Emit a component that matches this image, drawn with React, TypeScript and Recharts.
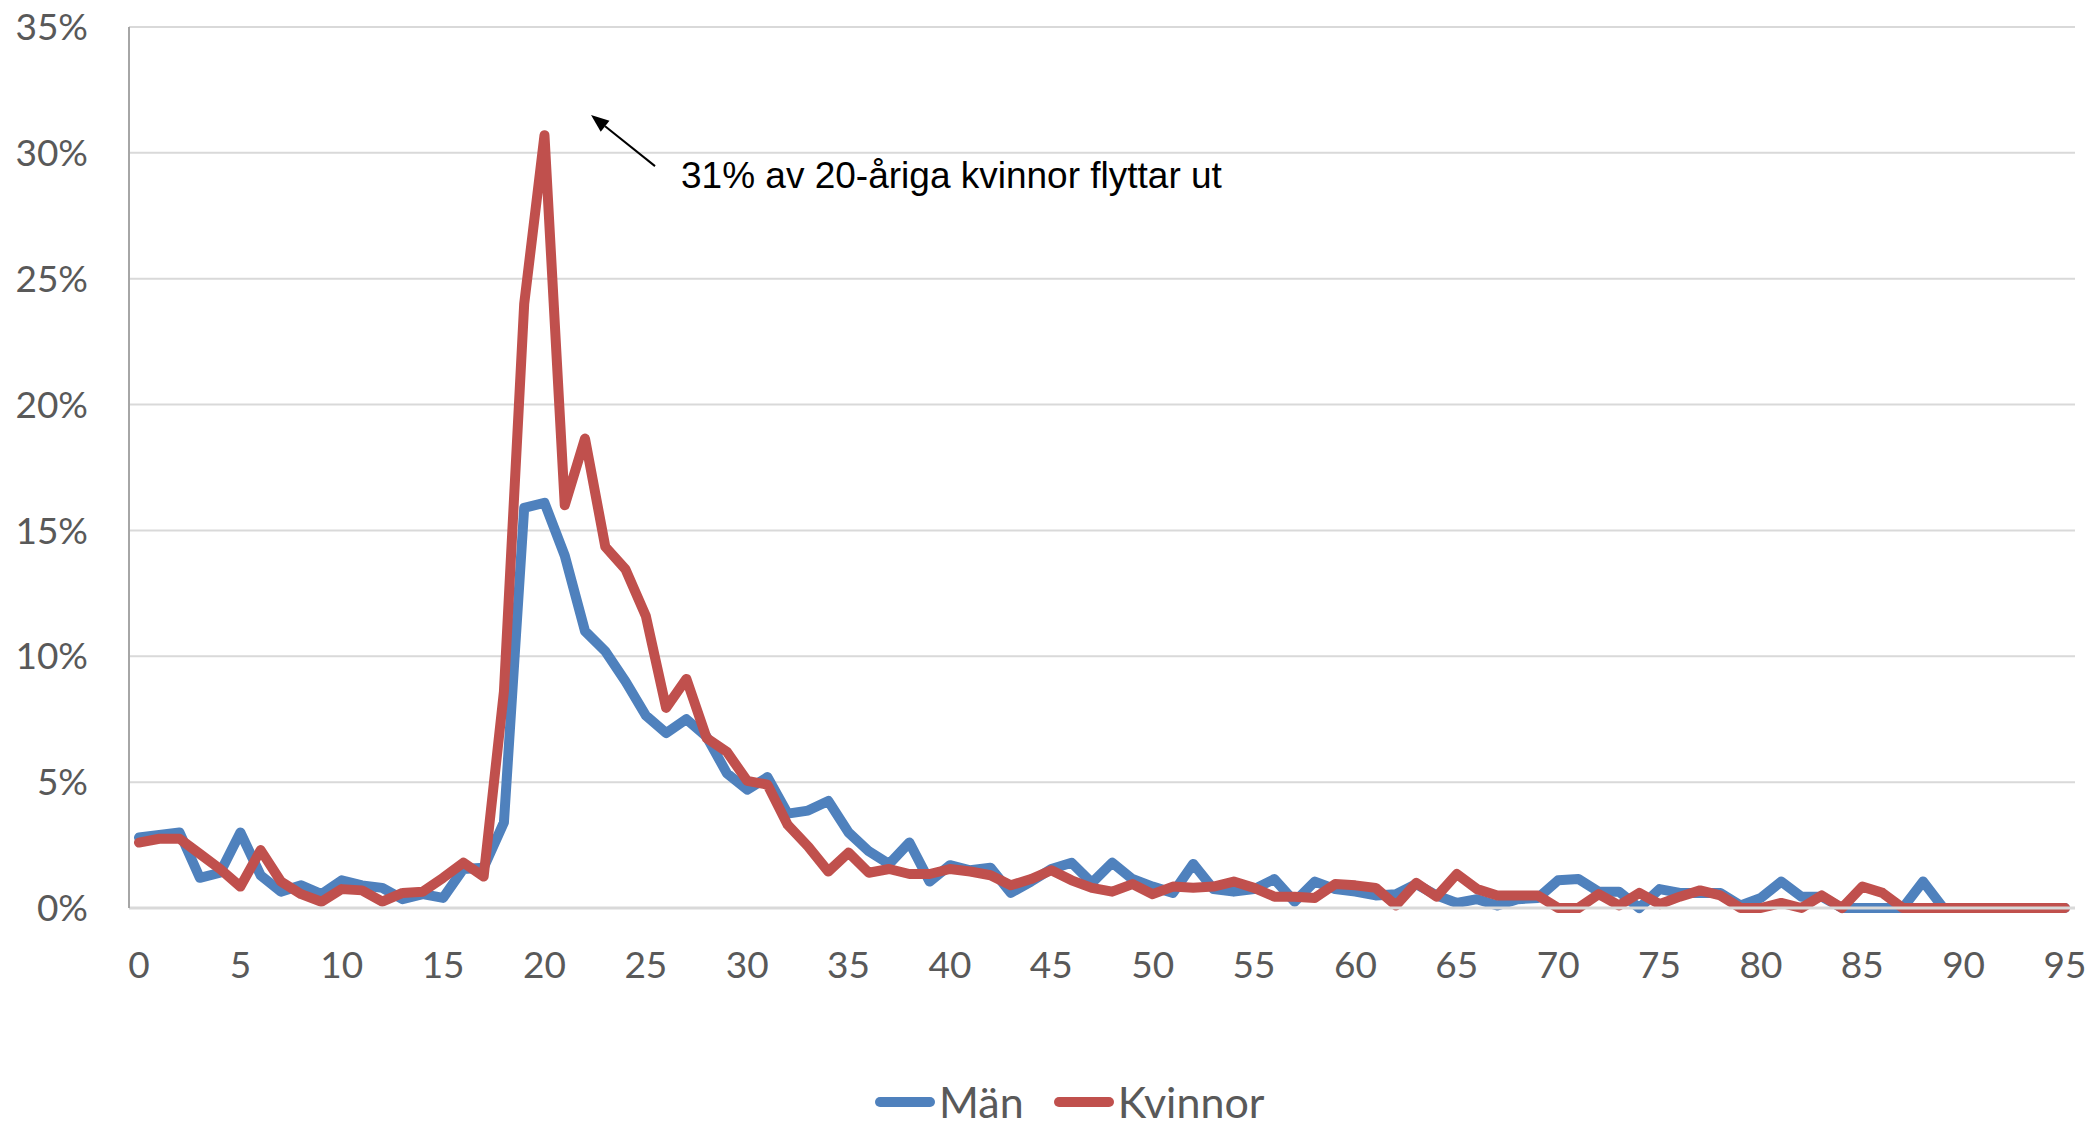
import {
  LineChart,
  Line,
  XAxis,
  YAxis,
  CartesianGrid,
  Legend,
  ReferenceDot,
} from "recharts";

// age 0..95 (category axis)
const ages: number[] = Array.from({ length: 96 }, (_, i) => i);

// share moving out, percent
const men: number[] = [
  2.8, 2.9, 3.0, 1.2, 1.4, 3.0, 1.3, 0.65, 0.9, 0.55,
  1.1, 0.9, 0.8, 0.35, 0.55, 0.4, 1.55, 1.6, 3.4, 15.9,
  16.1, 14.0, 11.0, 10.2, 9.0, 7.65, 6.95, 7.5, 6.8, 5.35,
  4.7, 5.2, 3.75, 3.87, 4.25, 3.0, 2.25, 1.75, 2.6, 1.05,
  1.7, 1.5, 1.6, 0.6, 1.05, 1.55, 1.8, 1.0, 1.8, 1.15,
  0.85, 0.6, 1.75, 0.75, 0.65, 0.75, 1.15, 0.25, 1.05, 0.75,
  0.65, 0.5, 0.55, 0.95, 0.5, 0.2, 0.35, 0.1, 0.35, 0.4,
  1.1, 1.15, 0.65, 0.65, 0.0, 0.75, 0.6, 0.6, 0.6, 0.1,
  0.4, 1.05, 0.45, 0.45, 0.0, 0.0, 0.0, 0.0, 1.05, 0.0,
  0.0, 0.0, 0.0, 0.0, 0.0, 0.0,
];

const women: number[] = [
  2.6, 2.75, 2.75, 2.15, 1.55, 0.85, 2.3, 1.05, 0.55, 0.25,
  0.75, 0.7, 0.25, 0.6, 0.65, 1.2, 1.8, 1.25, 8.6, 24.0,
  30.7, 16.0, 18.65, 14.35, 13.45, 11.6, 7.95, 9.1, 6.75, 6.2,
  5.05, 4.9, 3.3, 2.45, 1.45, 2.2, 1.4, 1.55, 1.35, 1.35,
  1.55, 1.45, 1.3, 0.9, 1.15, 1.5, 1.1, 0.8, 0.65, 0.95,
  0.55, 0.85, 0.8, 0.85, 1.05, 0.8, 0.45, 0.45, 0.4, 0.95,
  0.9, 0.8, 0.1, 1.0, 0.45, 1.35, 0.75, 0.5, 0.5, 0.5,
  0.0, 0.0, 0.55, 0.1, 0.6, 0.15, 0.45, 0.7, 0.5, 0.0,
  0.0, 0.2, 0.0, 0.5, 0.0, 0.85, 0.6, 0.0, 0.0, 0.0,
  0.0, 0.0, 0.0, 0.0, 0.0, 0.0,
];

const yTicks: number[] = [0, 5, 10, 15, 20, 25, 30, 35];

const legendOrder: string[] = ["Män", "Kvinnor"];

const calloutText = "31% av 20-åriga kvinnor flyttar ut";
const calloutAge = 22;
const calloutValue = 31.5;

const data = ages.map((age, i) => ({ age, men: men[i], women: women[i] }));

const tickStyle = { fill: "#595959", fontSize: 37, fontFamily: "Lato" };

function Callout({ cx, cy }: { cx: number; cy: number }) {
  const tipX = cx + 6;
  const tipY = cy;
  const tailX = cx + 70;
  const tailY = cy + 51;
  const dx = tipX - tailX;
  const dy = tipY - tailY;
  const len = Math.sqrt(dx * dx + dy * dy);
  const ux = dx / len;
  const uy = dy / len;
  const headLen = 18;
  const headW = 7;
  const bx = tipX - ux * headLen;
  const by = tipY - uy * headLen;
  const pts = [
    `${tipX},${tipY}`,
    `${bx - uy * headW},${by + ux * headW}`,
    `${bx + uy * headW},${by - ux * headW}`,
  ].join(" ");
  return (
    <g>
      <line x1={tailX} y1={tailY} x2={bx} y2={by} stroke="#000" strokeWidth={2} />
      <polygon points={pts} fill="#000" />
      <text
        x={cx + 96}
        y={cy + 73}
        fontFamily="'Liberation Sans', Arial, sans-serif"
        fontSize={37}
        fill="#000"
      >
        {calloutText}
      </text>
    </g>
  );
}

function LegendContent(props: any) {
  const items = [...(props.payload || [])].sort(
    (a: any, b: any) => legendOrder.indexOf(a.value) - legendOrder.indexOf(b.value)
  );
  return (
    <div
      style={{
        display: "flex",
        alignItems: "center",
        height: 44,
        marginLeft: 875,
        fontFamily: "Lato",
        fontSize: 43,
        lineHeight: "44px",
        color: "#595959",
      }}
    >
      {items.map((it: any) => (
        <div
          key={it.value}
          style={{ display: "flex", alignItems: "center", marginRight: 30 }}
        >
          <span
            style={{
              display: "inline-block",
              width: 60,
              height: 10,
              borderRadius: 5,
              background: it.color,
              marginRight: 4,
            }}
          />
          <span>{it.value}</span>
        </div>
      ))}
    </div>
  );
}

export default function App() {
  return (
    <div
      style={{
        position: "absolute",
        left: 0,
        top: 0,
        width: 2091,
        height: 1130,
        background: "#fff",
      }}
    >
      <LineChart
        width={2091}
        height={1130}
        data={data}
        margin={{ top: 27, right: 16, bottom: 0, left: 9 }}
      >
        <CartesianGrid vertical={false} stroke="#D9D9D9" strokeWidth={2} />
        <XAxis
          dataKey="age"
          interval={4}
          padding={{ left: 10, right: 10 }}
          height={178}
          tickLine={false}
          tickSize={0}
          tickMargin={44}
          axisLine={{ stroke: "#D9D9D9", strokeWidth: 3 }}
          tick={tickStyle}
        />
        <XAxis
          xAxisId="top"
          orientation="top"
          dataKey="age"
          height={0}
          tick={false}
          tickLine={false}
          padding={{ left: 10, right: 10 }}
          axisLine={{ stroke: "#A6A6A6", strokeWidth: 2 }}
        />
        <YAxis
          domain={[0, 35]}
          ticks={yTicks}
          width={120}
          tickLine={false}
          tickSize={0}
          tickMargin={41}
          tickFormatter={(v: number) => `${v}%`}
          axisLine={{ stroke: "#A6A6A6", strokeWidth: 2 }}
          tick={tickStyle}
        />
        <YAxis
          yAxisId="right"
          orientation="right"
          domain={[0, 35]}
          width={0}
          tick={false}
          tickLine={false}
          axisLine={{ stroke: "#A6A6A6", strokeWidth: 2 }}
        />
        <Line
          dataKey="men"
          name="Män"
          stroke="#4F81BD"
          strokeWidth={10}
          strokeLinejoin="round"
          strokeLinecap="round"
          dot={false}
          activeDot={false}
          isAnimationActive={false}
        />
        <Line
          dataKey="women"
          name="Kvinnor"
          stroke="#C0504D"
          strokeWidth={10}
          strokeLinejoin="round"
          strokeLinecap="round"
          dot={false}
          activeDot={false}
          isAnimationActive={false}
        />
        <ReferenceDot
          x={calloutAge}
          y={calloutValue}
          r={0}
          shape={(p: any) => <Callout cx={p.cx} cy={p.cy} />}
        />
        <Legend
          verticalAlign="bottom"
          wrapperStyle={{ top: 1080, left: 0, width: 2091, height: 44 }}
          content={(p: any) => <LegendContent {...p} />}
        />
      </LineChart>
    </div>
  );
}
